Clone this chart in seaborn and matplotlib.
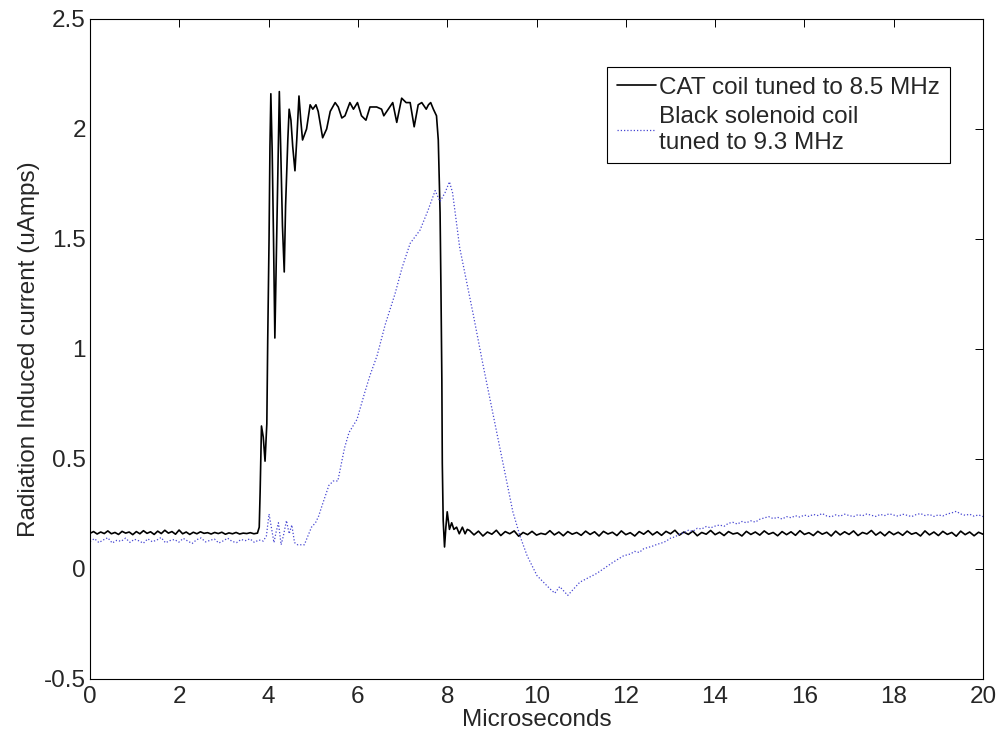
import numpy as np
import pandas as pd
import seaborn as sns
import matplotlib
matplotlib.use('Agg')
import matplotlib.pyplot as plt

# CAT coil (solid black) - flat baseline before the pulse
cat_base = [0.162, 0.170, 0.159, 0.168, 0.161, 0.173, 0.160, 0.166, 0.157, 0.171, 0.163, 0.168,
            0.156, 0.170, 0.160, 0.174, 0.162, 0.169, 0.157, 0.172, 0.161, 0.176, 0.163, 0.170,
            0.158, 0.177, 0.160, 0.168, 0.157, 0.167, 0.160, 0.169, 0.162, 0.165, 0.159, 0.166,
            0.161, 0.167, 0.158, 0.164, 0.160, 0.166, 0.159, 0.163, 0.161, 0.165, 0.160, 0.163]
cat_base_t = np.linspace(0.0, 3.75, len(cat_base))

# the pulse itself
cat_pulse_t = [3.79, 3.81, 3.84, 3.88, 3.92, 3.96, 3.97, 3.98, 4.01, 4.03, 4.05, 4.08, 4.11, 4.14,
               4.18, 4.22, 4.24, 4.27, 4.31, 4.35, 4.38, 4.43, 4.46, 4.50, 4.54, 4.59, 4.63, 4.68,
               4.72, 4.76, 4.85, 4.93, 4.99, 5.06, 5.11, 5.21, 5.30, 5.38, 5.49, 5.56, 5.64, 5.71,
               5.82, 5.90, 5.99, 6.08, 6.18, 6.27, 6.42, 6.53, 6.58, 6.68, 6.78, 6.87, 6.98, 7.08,
               7.17, 7.26, 7.35, 7.43, 7.53, 7.58, 7.63, 7.69, 7.76, 7.80, 7.84, 7.86, 7.88, 7.89,
               7.91, 7.94, 7.97, 8.00, 8.05, 8.10, 8.15, 8.21, 8.27, 8.34, 8.40, 8.45]
cat_pulse = [0.19, 0.35, 0.65, 0.60, 0.49, 0.66, 0.86, 1.04, 1.50, 1.92, 2.16, 1.90, 1.50, 1.05,
             1.50, 1.95, 2.17, 1.92, 1.56, 1.35, 1.65, 1.95, 2.09, 2.04, 1.92, 1.81, 1.95, 2.15,
             2.04, 1.95, 2.00, 2.11, 2.09, 2.11, 2.08, 1.96, 2.00, 2.08, 2.12, 2.10, 2.05, 2.06,
             2.12, 2.09, 2.12, 2.06, 2.04, 2.10, 2.10, 2.09, 2.06, 2.09, 2.12, 2.03, 2.14, 2.12,
             2.12, 2.01, 2.11, 2.12, 2.09, 2.11, 2.12, 2.09, 2.06, 1.95, 1.62, 1.27, 0.86, 0.48,
             0.22, 0.10, 0.19, 0.26, 0.18, 0.21, 0.18, 0.19, 0.16, 0.19, 0.16, 0.18]

# ringing-free tail after the pulse
cat_tail = [0.175, 0.155, 0.172, 0.150, 0.168, 0.158, 0.176, 0.152, 0.170, 0.160, 0.173, 0.149,
            0.166, 0.156, 0.171, 0.154, 0.162, 0.157, 0.174, 0.155, 0.168, 0.151, 0.170, 0.158,
            0.166, 0.153, 0.172, 0.157, 0.169, 0.150, 0.171, 0.159, 0.167, 0.152, 0.173, 0.156,
            0.165, 0.150, 0.170, 0.158, 0.174, 0.155, 0.169, 0.153, 0.171, 0.160, 0.176, 0.154,
            0.168, 0.157, 0.172, 0.151, 0.166, 0.158, 0.175, 0.156, 0.167, 0.152, 0.170, 0.159,
            0.164, 0.150, 0.171, 0.157, 0.168, 0.154, 0.173, 0.158, 0.166, 0.151, 0.170, 0.156,
            0.169, 0.153, 0.174, 0.157, 0.165, 0.152, 0.171, 0.158, 0.167, 0.150, 0.172, 0.155,
            0.169, 0.157, 0.173, 0.152, 0.166, 0.159, 0.175, 0.154, 0.168, 0.151, 0.170, 0.156,
            0.167, 0.153, 0.172, 0.158, 0.165, 0.150, 0.173, 0.155, 0.168, 0.152, 0.171, 0.157,
            0.166, 0.149, 0.172, 0.156, 0.168, 0.151, 0.167, 0.158]
cat_tail_t = np.linspace(8.5, 20.0, len(cat_tail))

# black solenoid coil (dotted blue)
sol_base = [0.125, 0.138, 0.120, 0.132, 0.142, 0.118, 0.130, 0.126, 0.140, 0.121, 0.135, 0.128,
            0.117, 0.137, 0.124, 0.131, 0.143, 0.119, 0.129, 0.134, 0.122, 0.139, 0.127, 0.116,
            0.133, 0.141, 0.123, 0.130, 0.136, 0.118, 0.128, 0.140, 0.125, 0.120, 0.134, 0.129,
            0.137, 0.121, 0.132, 0.127]
sol_base_t = np.linspace(0.0, 3.88, len(sol_base))

sol_mid_t = [3.95, 4.01, 4.06, 4.12, 4.17, 4.22, 4.28, 4.33, 4.40, 4.46, 4.52, 4.58, 4.65, 4.72,
             4.80, 4.88, 4.96, 5.05, 5.12, 5.20, 5.35, 5.45, 5.55, 5.70, 5.80, 5.98, 6.15, 6.27,
             6.43, 6.61, 6.83, 6.99, 7.17, 7.39, 7.57, 7.73, 7.84, 7.95, 8.05, 8.12, 8.28, 8.58,
             8.80, 9.02, 9.25, 9.47, 9.63, 9.79, 10.01, 10.30, 10.41, 10.52, 10.70, 10.97, 11.35,
             11.71, 11.95]
sol_mid = [0.15, 0.25, 0.19, 0.12, 0.17, 0.21, 0.11, 0.15, 0.22, 0.16, 0.20, 0.12, 0.11, 0.11,
           0.11, 0.15, 0.19, 0.21, 0.24, 0.29, 0.38, 0.40, 0.40, 0.55, 0.62, 0.68, 0.80, 0.88,
           0.97, 1.11, 1.25, 1.37, 1.48, 1.54, 1.63, 1.72, 1.67, 1.71, 1.76, 1.71, 1.46, 1.16,
           0.93, 0.71, 0.48, 0.26, 0.15, 0.06, -0.03, -0.09, -0.11, -0.08, -0.12, -0.06, -0.02,
           0.03, 0.06]

sol_tail = [0.068, 0.080, 0.075, 0.092, 0.098, 0.104, 0.112, 0.118, 0.126, 0.140, 0.146, 0.158,
            0.165, 0.176, 0.171, 0.185, 0.182, 0.193, 0.187, 0.195, 0.200, 0.194, 0.208, 0.212,
            0.204, 0.216, 0.210, 0.219, 0.213, 0.226, 0.232, 0.238, 0.229, 0.235, 0.227, 0.238,
            0.233, 0.242, 0.236, 0.245, 0.239, 0.248, 0.243, 0.252, 0.241, 0.237, 0.246, 0.240,
            0.249, 0.243, 0.238, 0.247, 0.242, 0.250, 0.244, 0.239, 0.248, 0.243, 0.251, 0.245,
            0.240, 0.249, 0.244, 0.238, 0.247, 0.252, 0.243, 0.248, 0.239, 0.246, 0.241, 0.250,
            0.255, 0.262, 0.250, 0.244, 0.249, 0.240, 0.246, 0.238]
sol_tail_t = np.linspace(12.1, 20.0, len(sol_tail))

labels = ['CAT coil tuned to 8.5 MHz', 'Black solenoid coil\ntuned to 9.3 MHz']
x_ticks = list(range(0, 21, 2))
y_ticks = [-0.5, 0, 0.5, 1, 1.5, 2, 2.5]
y_ticklabels = ['-0.5', '0', '0.5', '1', '1.5', '2', '2.5']

cat = pd.DataFrame({'t': np.concatenate([cat_base_t, cat_pulse_t, cat_tail_t]),
                    'i': np.concatenate([cat_base, cat_pulse, cat_tail])})
sol = pd.DataFrame({'t': np.concatenate([sol_base_t, sol_mid_t, sol_tail_t]),
                    'i': np.concatenate([sol_base, sol_mid, sol_tail])})

sns.set_style('white')
plt.rcParams['font.family'] = ['Liberation Sans', 'DejaVu Sans']
fs = 17.5

fig = plt.figure(figsize=(9.99, 7.33), dpi=100)
ax = fig.add_axes([0.0901, 0.0737, 0.8939, 0.9004])

sns.lineplot(data=cat, x='t', y='i', ax=ax, color='black', linewidth=1.2,
             sort=False, estimator=None, label=labels[0])
sns.lineplot(data=sol, x='t', y='i', ax=ax, color='#4646d2', linewidth=0.9,
             linestyle=(0, (1, 1.6)), sort=False, estimator=None, label=labels[1])

ax.set_xlim(0, 20)
ax.set_ylim(-0.5, 2.5)
ax.set_xticks(x_ticks)
ax.set_yticks(y_ticks)
ax.set_yticklabels(y_ticklabels)
ax.tick_params(direction='in', top=True, right=True, length=5.5, width=0.7,
               labelsize=fs, color='black')
ax.tick_params(axis='x', pad=5)
ax.tick_params(axis='y', pad=3)
for s in ax.spines.values():
    s.set_color('black')
    s.set_linewidth(0.8)

ax.set_xlabel('Microseconds', fontsize=fs, labelpad=1)
ax.set_ylabel('Radiation Induced current (uAmps)', fontsize=fs, labelpad=3)

leg = ax.legend(loc='upper right', bbox_to_anchor=(0.963, 0.927), borderaxespad=0,
                fontsize=fs, frameon=True, fancybox=False, shadow=False, framealpha=1,
                handlelength=1.6, handletextpad=0.15, borderpad=0.4, labelspacing=0.3)
leg.get_frame().set_edgecolor('black')
leg.get_frame().set_linewidth(0.8)

fig.savefig('out.png', dpi=100)
